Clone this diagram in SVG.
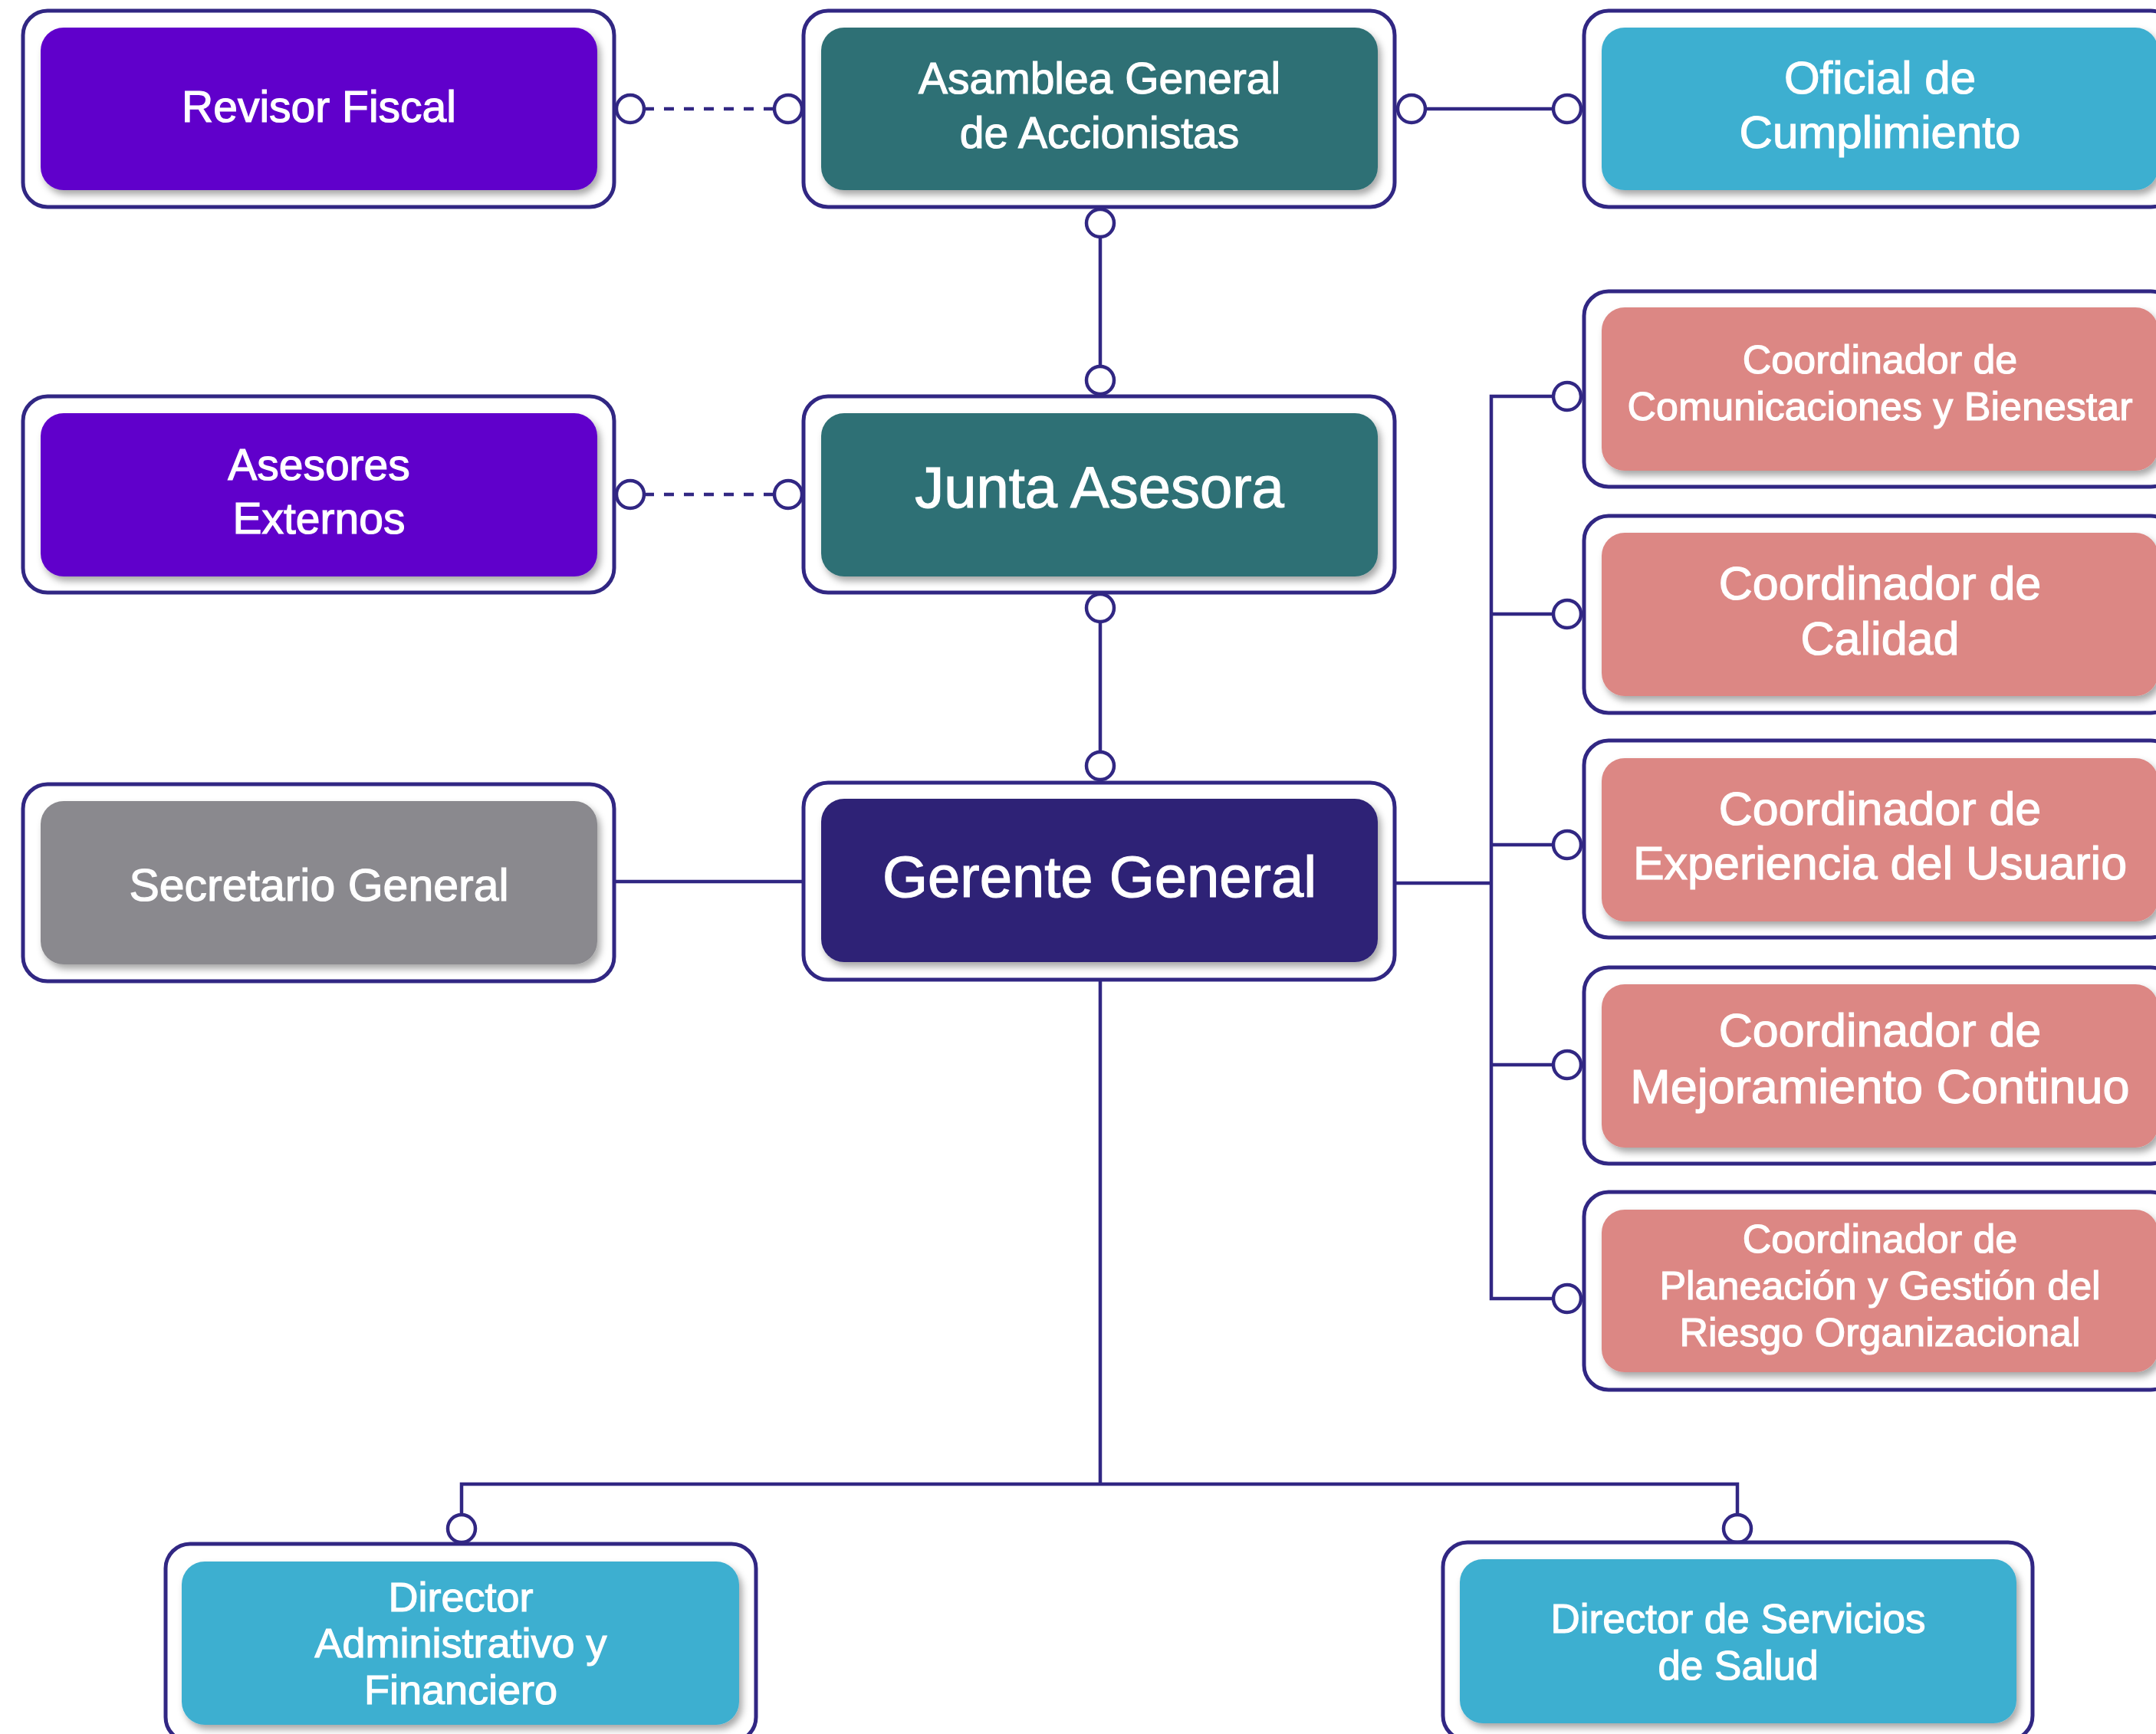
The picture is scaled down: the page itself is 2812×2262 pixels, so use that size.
<svg xmlns="http://www.w3.org/2000/svg" width="2812" height="2262" viewBox="0 0 2812 2262">
  <defs>
    <filter id="sh" x="-10%" y="-10%" width="125%" height="130%">
      <feDropShadow dx="4" dy="6" stdDeviation="5" flood-color="#000" flood-opacity="0.35"/>
    </filter>
    <style>
      .outer{fill:#fff;stroke:#312783;stroke-width:5}
      .inner{filter:url(#sh)}
      .purple{fill:#6100cb}
      .teal{fill:#2e6f74}
      .blue{fill:#3eafd0}
      .salmon{fill:#dc8784}
      .grey{fill:#8a898e}
      .navy{fill:#2d2476}
      .t{font-family:"Liberation Sans",Arial,sans-serif;fill:#fff;stroke:#fff;stroke-width:1.2;text-anchor:middle}
      .ln{stroke:#312783;stroke-width:4.5;fill:none}
      .dash{stroke-dasharray:13 13}
      .dot{fill:#fff;stroke:#312783;stroke-width:4.5}
    </style>
  </defs>
  <rect width="2812" height="2262" fill="#fff"/>

  <g id="connectors">
    <line class="ln dash" x1="840" y1="142" x2="1010" y2="142"/>
    <line class="ln dash" x1="840" y1="645" x2="1010" y2="645"/>
    <line class="ln" x1="1859" y1="142" x2="2026" y2="142"/>
    <line class="ln" x1="1435" y1="309" x2="1435" y2="478"/>
    <line class="ln" x1="1435" y1="811" x2="1435" y2="981"/>
    <line class="ln" x1="801" y1="1150" x2="1048" y2="1150"/>
    <line class="ln" x1="1819" y1="1152" x2="1945" y2="1152"/>
    <polyline class="ln" points="2026,517 1945,517 1945,1694 2026,1694"/>
    <line class="ln" x1="1945" y1="801" x2="2026" y2="801"/>
    <line class="ln" x1="1945" y1="1102" x2="2026" y2="1102"/>
    <line class="ln" x1="1945" y1="1389" x2="2026" y2="1389"/>
    <line class="ln" x1="1435" y1="1278" x2="1435" y2="1936"/>
    <polyline class="ln" points="602,1976 602,1936 2266,1936 2266,1976"/>
    <circle class="dot" cx="822" cy="142" r="18"/>
    <circle class="dot" cx="1028" cy="142" r="18"/>
    <circle class="dot" cx="822" cy="645" r="18"/>
    <circle class="dot" cx="1028" cy="645" r="18"/>
    <circle class="dot" cx="1841" cy="142" r="18"/>
    <circle class="dot" cx="2044" cy="142" r="18"/>
    <circle class="dot" cx="1435" cy="291" r="18"/>
    <circle class="dot" cx="1435" cy="496" r="18"/>
    <circle class="dot" cx="1435" cy="793" r="18"/>
    <circle class="dot" cx="1435" cy="999" r="18"/>
    <circle class="dot" cx="2044" cy="517" r="18"/>
    <circle class="dot" cx="2044" cy="801" r="18"/>
    <circle class="dot" cx="2044" cy="1102" r="18"/>
    <circle class="dot" cx="2044" cy="1389" r="18"/>
    <circle class="dot" cx="2044" cy="1694" r="18"/>
    <circle class="dot" cx="602" cy="1994" r="18"/>
    <circle class="dot" cx="2266" cy="1994" r="18"/>
  </g>

  <g id="revisor-fiscal">
    <rect class="outer" x="30" y="14" width="771" height="256" rx="32"/>
    <rect class="inner purple" x="53" y="36" width="726" height="212" rx="30"/>
    <text class="t" x="416" y="159" font-size="57">Revisor Fiscal</text>
  </g>

  <g id="asamblea">
    <rect class="outer" x="1048" y="14" width="771" height="256" rx="32"/>
    <rect class="inner teal" x="1071" y="36" width="726" height="212" rx="30"/>
    <text class="t" x="1434" y="122" font-size="57">Asamblea General</text>
    <text class="t" x="1434" y="193" font-size="57">de Accionistas</text>
  </g>

  <g id="oficial">
    <rect class="outer" x="2066" y="14" width="771" height="256" rx="32"/>
    <rect class="inner blue" x="2089" y="36" width="726" height="212" rx="30"/>
    <text class="t" x="2452" y="122" font-size="60">Oficial de</text>
    <text class="t" x="2452" y="193" font-size="60">Cumplimiento</text>
  </g>

  <g id="asesores">
    <rect class="outer" x="30" y="517" width="771" height="256" rx="32"/>
    <rect class="inner purple" x="53" y="539" width="726" height="213" rx="30"/>
    <text class="t" x="416" y="626" font-size="57">Asesores</text>
    <text class="t" x="416" y="696" font-size="57">Externos</text>
  </g>

  <g id="junta">
    <rect class="outer" x="1048" y="517" width="771" height="256" rx="32"/>
    <rect class="inner teal" x="1071" y="539" width="726" height="213" rx="30"/>
    <text class="t" x="1434" y="662" font-size="76">Junta Asesora</text>
  </g>

  <g id="secretario">
    <rect class="outer" x="30" y="1023" width="771" height="257" rx="32"/>
    <rect class="inner grey" x="53" y="1045" width="726" height="213" rx="30"/>
    <text class="t" x="416" y="1175" font-size="59">Secretario General</text>
  </g>

  <g id="gerente">
    <rect class="outer" x="1048" y="1021" width="771" height="257" rx="32"/>
    <rect class="inner navy" x="1071" y="1042" width="726" height="213" rx="30"/>
    <text class="t" x="1434" y="1170" font-size="76">Gerente General</text>
  </g>

  <g id="coord-comunicaciones">
    <rect class="outer" x="2066" y="380" width="771" height="255" rx="32"/>
    <rect class="inner salmon" x="2089" y="401" width="726" height="213" rx="30"/>
    <text class="t" x="2452" y="487" font-size="52">Coordinador de</text>
    <text class="t" x="2452" y="548" font-size="52">Comunicaciones y Bienestar</text>
  </g>

  <g id="coord-calidad">
    <rect class="outer" x="2066" y="673" width="771" height="257" rx="32"/>
    <rect class="inner salmon" x="2089" y="695" width="726" height="213" rx="30"/>
    <text class="t" x="2452" y="782" font-size="61">Coordinador de</text>
    <text class="t" x="2452" y="854" font-size="61">Calidad</text>
  </g>

  <g id="coord-experiencia">
    <rect class="outer" x="2066" y="966" width="771" height="257" rx="32"/>
    <rect class="inner salmon" x="2089" y="989" width="726" height="213" rx="30"/>
    <text class="t" x="2452" y="1076" font-size="61">Coordinador de</text>
    <text class="t" x="2452" y="1147" font-size="61">Experiencia del Usuario</text>
  </g>

  <g id="coord-mejoramiento">
    <rect class="outer" x="2066" y="1262" width="771" height="256" rx="32"/>
    <rect class="inner salmon" x="2089" y="1284" width="726" height="213" rx="30"/>
    <text class="t" x="2452" y="1365" font-size="61">Coordinador de</text>
    <text class="t" x="2452" y="1439" font-size="63">Mejoramiento Continuo</text>
  </g>

  <g id="coord-planeacion">
    <rect class="outer" x="2066" y="1555" width="771" height="258" rx="32"/>
    <rect class="inner salmon" x="2089" y="1578" width="726" height="212" rx="30"/>
    <text class="t" x="2452" y="1634" font-size="52">Coordinador de</text>
    <text class="t" x="2452" y="1695" font-size="52">Planeación y Gestión del</text>
    <text class="t" x="2452" y="1756" font-size="52">Riesgo Organizacional</text>
  </g>

  <g id="director-administrativo">
    <rect class="outer" x="216" y="2014" width="770" height="258" rx="32"/>
    <rect class="inner blue" x="237" y="2037" width="727" height="213" rx="30"/>
    <text class="t" x="601" y="2102" font-size="54">Director</text>
    <text class="t" x="601" y="2162" font-size="54">Administrativo y</text>
    <text class="t" x="601" y="2223" font-size="54">Financiero</text>
  </g>

  <g id="director-servicios">
    <rect class="outer" x="1882" y="2012" width="769" height="258" rx="32"/>
    <rect class="inner blue" x="1904" y="2034" width="726" height="214" rx="30"/>
    <text class="t" x="2267" y="2130" font-size="53">Director de Servicios</text>
    <text class="t" x="2267" y="2191" font-size="53">de Salud</text>
  </g>
</svg>
